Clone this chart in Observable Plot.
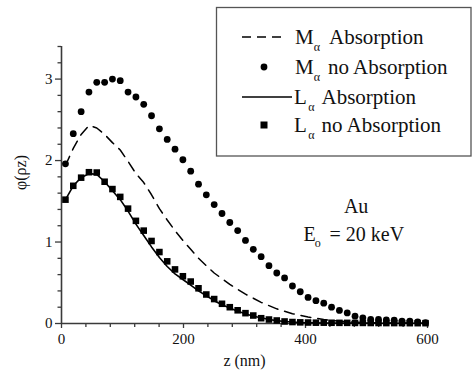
<!DOCTYPE html>
<html><head><meta charset="utf-8">
<script src="https://cdn.jsdelivr.net/npm/d3@7"></script>
<script src="https://cdn.jsdelivr.net/npm/@observablehq/plot@0.6"></script>
<style>
body{margin:0;background:#fff}
#chart svg{display:block}
</style>
</head><body><div id="chart"></div>
<script>
// depth z (nm)
const zNm = [6.5,19.3,32.2,45.0,57.8,70.7,83.5,96.3,109.1,122.0,134.8,147.6,160.5,173.3,186.1,199.0,211.8,224.6,237.4,250.3,263.1,275.9,288.8,301.6,314.4,327.3,340.1,352.9,365.7,378.6,391.4,404.2,417.1,429.9,442.7,455.6,468.4,481.2,494.0,506.9,519.7,532.5,545.4,558.2,571.0,583.9,596.7];
// M alpha, no absorption (circles)
const mNoAbs = [1.96,2.33,2.60,2.84,2.96,2.96,3.00,2.98,2.84,2.78,2.69,2.55,2.39,2.26,2.14,2.01,1.87,1.71,1.58,1.46,1.35,1.24,1.14,1.02,0.91,0.82,0.71,0.62,0.56,0.46,0.39,0.32,0.28,0.25,0.20,0.16,0.13,0.09,0.07,0.05,0.05,0.045,0.04,0.03,0.03,0.02,0.01];
// M alpha, absorption (dashed)
const mAbs = [1.94,2.15,2.32,2.43,2.40,2.32,2.22,2.13,1.99,1.84,1.73,1.58,1.41,1.27,1.14,1.02,0.91,0.80,0.71,0.62,0.55,0.48,0.42,0.36,0.31,0.26,0.22,0.18,0.15,0.12,0.10,0.08,0.065,0.05,0.038,0.03,0.022,0.017,0.012,0.01,0.008,0.007,0.006,0.005,0.005,0.004,0.004];
// L alpha, no absorption (squares)
const lNoAbs = [1.52,1.69,1.79,1.857,1.853,1.74,1.65,1.554,1.41,1.26,1.14,1.013,0.877,0.763,0.664,0.58,0.515,0.432,0.356,0.30,0.242,0.20,0.162,0.127,0.098,0.065,0.049,0.037,0.025,0.018,0.014,0.012,0.01,0.01,0.009,0.008,0.008,0.007,0.007,0.006,0.006,0.005,0.005,0.005,0.004,0.004,0.004];
// L alpha, absorption (solid)
const lAbs = [1.52,1.69,1.79,1.84,1.83,1.74,1.63,1.52,1.38,1.22,1.08,0.94,0.81,0.70,0.61,0.54,0.47,0.40,0.34,0.28,0.23,0.19,0.15,0.12,0.09,0.07,0.05,0.035,0.025,0.018,0.012,0.01,0.008,0.007,0.006,0.005,0.005,0.004,0.004,0.004,0.003,0.003,0.003,0.003,0.003,0.003,0.003];

const xTicks = [0,200,400,600];
const xMinor = [40,80,120,160,240,280,320,360,440,480,520,560];
const yTicks = [0,1,2,3];
const yMinor = [0.2,0.4,0.6,0.8,1.2,1.4,1.6,1.8,2.2,2.4,2.6,2.8,3.2,3.4];

const xTitle = "z (nm)";
const yTitle = "\u03C6(\u03C1z)";
const legendNames = ["M", "M", "L", "L"];
const legendTexts = ["Absorption", "no Absorption", "Absorption", "no Absorption"];

const rows = (vals) => zNm.map((z, i) => ({z, v: vals[i]}));
const axisColor = "#3a3a3a";
const serifFace = "Liberation Serif";
const fmt = d => String(d);
const T = {fontFamily: serifFace, fill: "#111"};

const chartSvg = Plot.plot({
  width: 472, height: 378,
  marginLeft: 61, marginRight: 45, marginTop: 46, marginBottom: 55,
  x: {domain: [0, 600], label: null},
  y: {domain: [0, 3.4], label: null},
  marks: [
    Plot.axisX({ticks: xMinor, tickSize: 4, text: null, label: null, stroke: axisColor, strokeWidth: 1.3}),
    Plot.axisX({ticks: xTicks, tickSize: 5, tickPadding: 5, tickFormat: fmt, stroke: axisColor, strokeWidth: 1.3, fontSize: 15, ...T, label: null}),
    Plot.axisY({ticks: yMinor, tickSize: 3.5, text: null, label: null, stroke: axisColor, strokeWidth: 1.3}),
    Plot.axisY({ticks: yTicks, tickSize: 6, tickPadding: 3, tickFormat: fmt, stroke: axisColor, strokeWidth: 1.3, fontSize: 15, ...T, label: null}),
    Plot.ruleX([0], {y1: 0, y2: 3.4, stroke: axisColor, strokeWidth: 1.6}),
    Plot.ruleY([0], {x1: 0, x2: 600, stroke: axisColor, strokeWidth: 1.6}),
    Plot.line(rows(mAbs), {x: "z", y: "v", stroke: "black", strokeWidth: 1.5, strokeDasharray: "10,7"}),
    Plot.line(rows(lAbs), {x: "z", y: "v", stroke: "black", strokeWidth: 1.6}),
    Plot.dot(rows(mNoAbs), {x: "z", y: "v", r: 3.4, fill: "black", symbol: "circle"}),
    Plot.dot(rows(lNoAbs), {x: "z", y: "v", r: 3.7, fill: "black", symbol: "square"}),
    Plot.text([xTitle], {frameAnchor: "bottom", dy: 42, fontSize: 16, ...T}),
    Plot.text([yTitle], {frameAnchor: "left", dx: -41, dy: 5, rotate: -90, fontSize: 16, ...T}),
    Plot.text(["Au"], {x: 483, y: 1.43, fontSize: 20, ...T}),
    Plot.text(["E"], {x: 396.7, y: 1.095, textAnchor: "start", fontSize: 20, ...T}),
    Plot.text(["o"], {x: 420, y: 0.985, fontSize: 12, ...T}),
    Plot.text(["= 20 keV"], {x: 439.5, y: 1.095, textAnchor: "start", fontSize: 20, ...T})
  ]
});
document.getElementById("chart").appendChild(chartSvg);

// Legend box (drawn on top of the plot SVG)
const lg = d3.select(chartSvg).append("g").attr("fill", "#111");
lg.append("rect").attr("x", 216.5).attr("y", 7.5).attr("width", 254.5).attr("height", 148.5)
  .attr("fill", "white").attr("stroke", "#555").attr("stroke-width", 1.3);
const entryY = [37, 67, 97, 125];
const nameX = [295, 295, 294, 294];
const subX = [317, 317, 311.5, 311.5];
const textX = [329, 328, 321.5, 321.5];
lg.append("line").attr("x1", 242).attr("x2", 284).attr("y1", entryY[0]).attr("y2", entryY[0])
  .attr("stroke", "black").attr("stroke-width", 1.5).attr("stroke-dasharray", "9,6");
lg.append("circle").attr("cx", 264).attr("cy", entryY[1]).attr("r", 3.4).attr("fill", "black");
lg.append("line").attr("x1", 242).attr("x2", 292).attr("y1", entryY[2]).attr("y2", entryY[2])
  .attr("stroke", "black").attr("stroke-width", 1.6);
lg.append("rect").attr("x", 260.5).attr("y", entryY[3] - 3.5).attr("width", 7).attr("height", 7).attr("fill", "black");
legendNames.forEach((n, i) => {
  const base = entryY[i] + 7;
  lg.append("text").attr("x", nameX[i]).attr("y", base).attr("font-size", 21)
    .attr("text-anchor", "start").attr("font-family", serifFace).text(n);
  lg.append("text").attr("x", subX[i]).attr("y", base + 7).attr("font-size", 12)
    .attr("text-anchor", "middle").attr("font-family", serifFace).text("\u03B1");
  lg.append("text").attr("x", textX[i]).attr("y", base).attr("font-size", 21)
    .attr("text-anchor", "start").attr("font-family", serifFace).text(legendTexts[i]);
});
</script>
</body></html>
